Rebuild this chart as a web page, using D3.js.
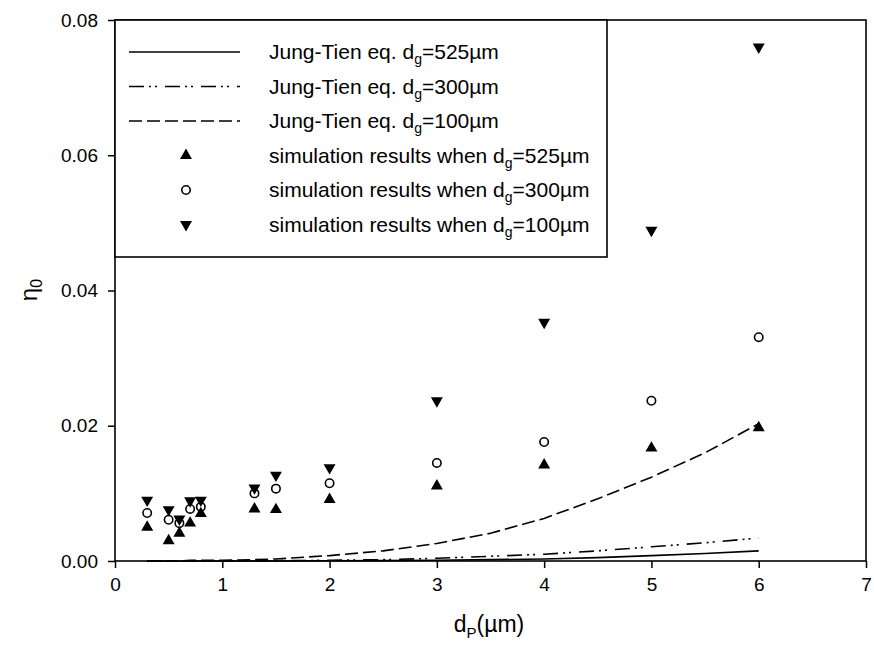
<!DOCTYPE html>
<html>
<head>
<meta charset="utf-8">
<script src="https://cdn.jsdelivr.net/npm/d3@7"></script>
<style>
  body { margin: 0; background: #fff; }
  svg text { font-family: "Liberation Sans", Arial, sans-serif; fill: #000; }
</style>
</head>
<body>
<div id="chart"></div>
<script>
// particle diameters of the simulation runs (um)
var dpSim = [0.3, 0.5, 0.6, 0.7, 0.8, 1.3, 1.5, 2, 3, 4, 5, 6];
var sim525 = [0.0050, 0.0030, 0.0041, 0.0056, 0.0070, 0.0077, 0.0076, 0.0091, 0.0111, 0.0142, 0.0167, 0.0197];
var sim300 = [0.0071, 0.0061, 0.0056, 0.0077, 0.0080, 0.0100, 0.0107, 0.0115, 0.0145, 0.0176, 0.0237, 0.0331];
var sim100 = [0.0090, 0.0076, 0.0062, 0.0089, 0.0090, 0.0108, 0.0127, 0.0138, 0.0237, 0.0353, 0.0489, 0.0760];

// Jung-Tien equation curves
var dpEq = [0.3, 0.5, 0.6, 0.7, 0.8, 1, 1.3, 1.5, 2, 2.5, 3, 3.5, 4, 4.5, 5, 5.5, 6];
var eq525 = [0, 0, 0, 0, 0, 0, 0, 0, 0.00003, 0.00006, 0.0001, 0.0002, 0.0003, 0.0005, 0.0008, 0.0011, 0.0015];
var eq300 = [0, 0, 0, 0, 0, 0, 0.00003, 0.00005, 0.0001, 0.0002, 0.0004, 0.0007, 0.0010, 0.0015, 0.0021, 0.0027, 0.0034];
var eq100 = [0, 0, 0, 0.0001, 0.0001, 0.0001, 0.0002, 0.0003, 0.0008, 0.0015, 0.0026, 0.0041, 0.0063, 0.0092, 0.0124, 0.0160, 0.0203];

var xTicks = [0, 1, 2, 3, 4, 5, 6, 7];
var yTicks = [0, 0.02, 0.04, 0.06, 0.08];

var W = 874, H = 659;
// plot box edges (window.top is reserved, so prefixed names)
var pLeft = 115, pRight = 866, pTop = 20, pBottom = 561;

var svg = d3.select("#chart").append("svg")
    .attr("width", W)
    .attr("height", H);

var x = d3.scaleLinear().domain([0, 7]).range([pLeft, pRight]);
var y = d3.scaleLinear().domain([0, 0.08]).range([pBottom, pTop]);

// curves
var line = d3.line()
    .x(d => x(d[0]))
    .y(d => y(d[1]));

var curves = [
    { vals: eq525, dash: null },
    { vals: eq300, dash: "15,5,2,4,2,8" },
    { vals: eq100, dash: "13,5" }
];

curves.forEach(function(c) {
    svg.append("path")
        .datum(dpEq.map((d, i) => [d, c.vals[i]]))
        .attr("d", line)
        .attr("fill", "none")
        .attr("stroke", "#000")
        .attr("stroke-width", 1.6)
        .attr("stroke-dasharray", c.dash);
});

// markers
var triUp = d3.symbol().type(d3.symbolTriangle).size(62);

function drawTri(vals, down) {
    svg.append("g").selectAll("path")
        .data(dpSim.map((d, i) => [d, vals[i]]))
        .enter()
        .append("path")
        .attr("d", triUp)
        .attr("transform", d => "translate(" + x(d[0]) + "," + y(d[1]) + ")" + (down ? " rotate(180)" : ""))
        .attr("fill", "#000");
}
drawTri(sim525, false);
drawTri(sim100, true);

svg.append("g").selectAll("circle")
    .data(dpSim.map((d, i) => [d, sim300[i]]))
    .enter()
    .append("circle")
    .attr("cx", d => x(d[0]))
    .attr("cy", d => y(d[1]))
    .attr("r", 4.2)
    .attr("fill", "none")
    .attr("stroke", "#000")
    .attr("stroke-width", 1.6);

// axes
var xAxis = svg.append("g")
    .attr("transform", "translate(0," + pBottom + ")")
    .call(d3.axisBottom(x).tickValues(xTicks).tickSizeOuter(0).tickSizeInner(7).tickPadding(10).tickFormat(d3.format("d")));
var yAxis = svg.append("g")
    .attr("transform", "translate(" + pLeft + ",0)")
    .call(d3.axisLeft(y).tickValues(yTicks).tickSizeOuter(0).tickSizeInner(7).tickPadding(10).tickFormat(d3.format(".2f")));

[xAxis, yAxis].forEach(function(a) {
    a.select(".domain").remove();
    a.selectAll("line").attr("stroke", "#000").attr("stroke-width", 1.5);
    a.selectAll("text").style("font-size", "19px").style("font-family", "Liberation Sans, Arial, sans-serif");
});

// frame
svg.append("rect")
    .attr("x", pLeft)
    .attr("y", pTop)
    .attr("width", pRight - pLeft)
    .attr("height", pBottom - pTop)
    .attr("fill", "none")
    .attr("stroke", "#000")
    .attr("stroke-width", 1.6);

// axis titles
var xl = svg.append("text")
    .attr("x", 489)
    .attr("y", 632)
    .attr("text-anchor", "middle")
    .style("font-size", "23px");
xl.append("tspan").text("d");
xl.append("tspan").attr("dy", 6).style("font-size", "15px").text("P");
xl.append("tspan").attr("dy", -6).text("(\u00b5m)");

var yl = svg.append("text")
    .attr("transform", "translate(37,290) rotate(-90)")
    .attr("text-anchor", "middle")
    .style("font-size", "24px");
yl.append("tspan").text("\u03b7");
yl.append("tspan").attr("dy", 5).style("font-size", "16px").text("0");

// legend
var legendItems = [
    { type: "line", dash: null, pre: "Jung-Tien eq. d", post: "=525\u00b5m" },
    { type: "line", dash: "15,5,2,4,2,8", pre: "Jung-Tien eq. d", post: "=300\u00b5m" },
    { type: "line", dash: "13,5", pre: "Jung-Tien eq. d", post: "=100\u00b5m" },
    { type: "up", pre: "simulation results when d", post: "=525\u00b5m" },
    { type: "circle", pre: "simulation results when d", post: "=300\u00b5m" },
    { type: "down", pre: "simulation results when d", post: "=100\u00b5m" }
];

svg.append("rect")
    .attr("x", pLeft)
    .attr("y", pTop)
    .attr("width", 607 - pLeft)
    .attr("height", 257 - pTop)
    .attr("fill", "#fff")
    .attr("stroke", "#000")
    .attr("stroke-width", 1.6);

var lg = svg.append("g").selectAll("g")
    .data(legendItems)
    .enter()
    .append("g")
    .attr("transform", (d, i) => "translate(0," + (52 + i * 34.5) + ")");

lg.each(function(d) {
    var g = d3.select(this);
    if (d.type === "line") {
        g.append("line")
            .attr("x1", 129).attr("x2", 240)
            .attr("y1", 0).attr("y2", 0)
            .attr("stroke", "#000")
            .attr("stroke-width", 1.6)
            .attr("stroke-dasharray", d.dash);
    } else if (d.type === "circle") {
        g.append("circle")
            .attr("cx", 186).attr("cy", 0).attr("r", 4.2)
            .attr("fill", "none").attr("stroke", "#000").attr("stroke-width", 1.6);
    } else {
        g.append("path")
            .attr("d", triUp)
            .attr("transform", "translate(186,0)" + (d.type === "down" ? " rotate(180)" : ""))
            .attr("fill", "#000");
    }
    var t = g.append("text")
        .attr("x", 269)
        .attr("y", 7)
        .style("font-size", "21px");
    t.append("tspan").text(d.pre);
    t.append("tspan").attr("dy", 5).style("font-size", "14px").text("g");
    t.append("tspan").attr("dy", -5).text(d.post);
});
</script>
</body>
</html>
